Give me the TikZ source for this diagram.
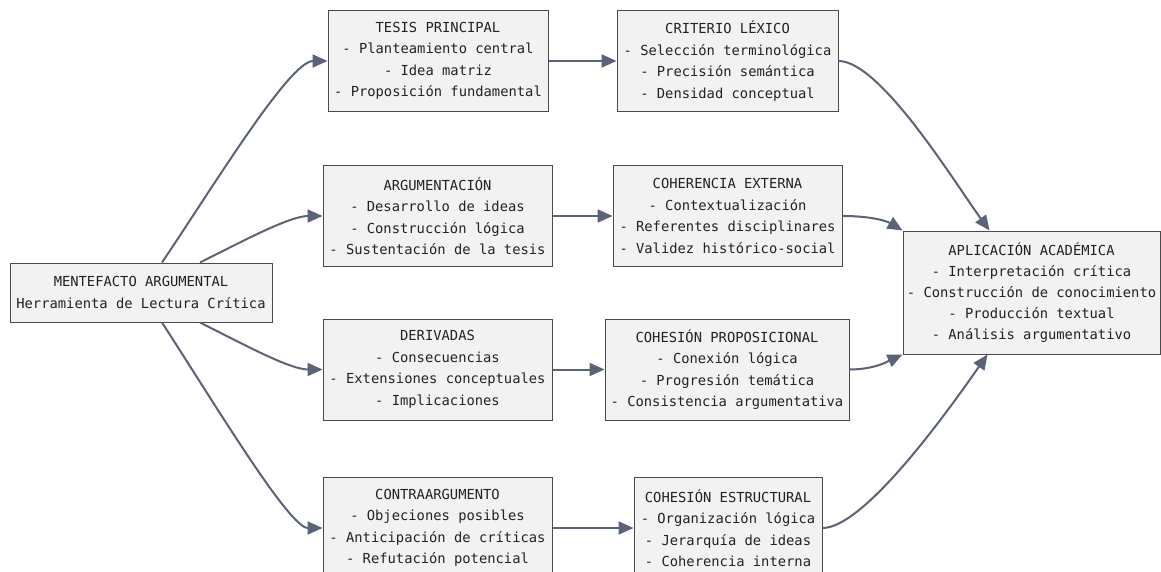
\documentclass[tikz,border=0pt]{standalone}
\usepackage{fontspec}
\setmonofont{DejaVu Sans Mono}
\usetikzlibrary{arrows.meta,calc}
\definecolor{boxfill}{HTML}{F2F2F2}
\definecolor{boxline}{HTML}{4A4A4A}
\definecolor{arrowc}{HTML}{5B6378}
\definecolor{txt}{HTML}{222222}
\begin{document}
\begin{tikzpicture}[x=1pt,y=-1pt,
  box/.style={draw=boxline, line width=1pt, fill=boxfill, align=center,
    font=\ttfamily\fontsize{13.8}{21.5}\selectfont, text=txt, inner sep=0pt,
    minimum height=101pt},
  link/.style={draw=arrowc, line width=2pt, -{Triangle[length=15pt,width=13pt]}}]
\useasboundingbox[fill=white] (0,0) rectangle (1161,572);

\node[box, minimum width=262pt, minimum height=59pt] (ment) at (141,292.5)
  {MENTEFACTO ARGUMENTAL\\Herramienta de Lectura Crítica};

\node[box, minimum width=220pt] (tesis) at (438,61)
  {TESIS PRINCIPAL\\- Planteamiento central\\- Idea matriz\\- Proposición fundamental};
\node[box, minimum width=229pt] (arg) at (437.5,216)
  {ARGUMENTACIÓN\\- Desarrollo de ideas\\- Construcción lógica\\- Sustentación de la tesis};
\node[box, minimum width=229pt] (deriv) at (437.5,369.5)
  {DERIVADAS\\- Consecuencias\\- Extensiones conceptuales\\- Implicaciones};
\node[box, minimum width=229pt] (contra) at (437.5,528)
  {CONTRAARGUMENTO\\- Objeciones posibles\\- Anticipación de críticas\\- Refutación potencial};

\node[box, minimum width=221pt] (crit) at (727.5,61)
  {CRITERIO LÉXICO\\- Selección terminológica\\- Precisión semántica\\- Densidad conceptual};
\node[box, minimum width=229pt] (cohext) at (727.5,216)
  {COHERENCIA EXTERNA\\- Contextualización\\- Referentes disciplinares\\- Validez histórico-social};
\node[box, minimum width=244pt] (cohprop) at (727,369.5)
  {COHESIÓN PROPOSICIONAL\\- Conexión lógica\\- Progresión temática\\- Consistencia argumentativa};
\node[box, minimum width=188pt] (cohest) at (728,528)
  {COHESIÓN ESTRUCTURAL\\- Organización lógica\\- Jerarquía de ideas\\- Coherencia interna};

\node[box, minimum width=257pt, minimum height=123pt,
  font=\ttfamily\fontsize{13.8}{21}\selectfont] (apl) at (1031.5,292.5)
  {APLICACIÓN ACADÉMICA\\- Interpretación crítica\\- Construcción de conocimiento\\- Producción textual\\- Análisis argumentativo};

\draw[link] ([xshift=21pt]ment.north) .. controls +(50,-74) and +(-38,0) .. (tesis.west);
\draw[link] ([xshift=59pt]ment.north) .. controls +(40,-20) and +(-33,0) .. (arg.west);
\draw[link] ([xshift=59pt]ment.south) .. controls +(40,20) and +(-33,0) .. (deriv.west);
\draw[link] ([xshift=21pt]ment.south) .. controls +(55,85) and +(-33,0) .. (contra.west);

\draw[link] (tesis.east) -- (crit.west);
\draw[link] (arg.east) -- (cohext.west);
\draw[link] (deriv.east) -- (cohprop.west);
\draw[link] (contra.east) -- (cohest.west);

\draw[link] (crit.east) .. controls +(42,0) and +(-35,-48) .. ([xshift=87pt]apl.north west);
\draw[link] (cohext.east) .. controls +(30,0) and +(-15,-9) .. (apl.north west);
\draw[link] (cohprop.east) .. controls +(26,0) and +(-13,6) .. (apl.south west);
\draw[link] (cohest.east) .. controls +(43,0) and +(-35,50) .. ([xshift=85pt]apl.south west);
\end{tikzpicture}
\end{document}
